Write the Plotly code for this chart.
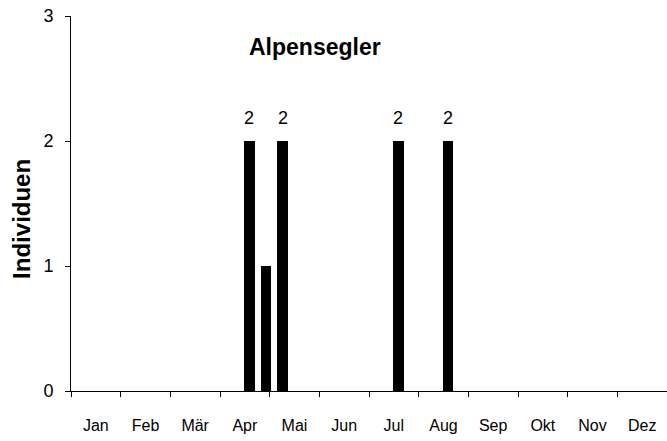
import plotly.graph_objects as go

months = ["Jan", "Feb", "Mär", "Apr", "Mai", "Jun", "Jul", "Aug", "Sep", "Okt", "Nov", "Dez"]
# decade index (0 = 1st decade of January, 3 decades per month)
decades = [10, 11, 12, 19, 22]
counts = [2, 1, 2, 2, 2]
shown_labels = ["2", "", "2", "2", "2"]
yticks = [0, 1, 2, 3]

BAR_OFF = 0.47
BAR_W = 0.62
FONT = "Liberation Sans, Arial, sans-serif"

fig = go.Figure()
fig.add_trace(go.Bar(
    x=decades, y=counts,
    offset=BAR_OFF, width=BAR_W,
    marker=dict(color="black", line=dict(width=0)),
    showlegend=False, hoverinfo="skip",
))

for d, c, t in zip(decades, counts, shown_labels):
    if t:
        fig.add_annotation(x=d + BAR_OFF + BAR_W / 2, y=c, text=t, showarrow=False,
                           yanchor="bottom", yshift=11,
                           font=dict(family=FONT, size=18, color="black"))

fig.add_annotation(x=0.41, y=0.9165, xref="paper", yref="paper", text="<b>Alpensegler</b>",
                   showarrow=False, yanchor="middle",
                   font=dict(family=FONT, size=23, color="black"))

fig.add_annotation(x=0, y=0.459, xref="paper", yref="paper", text="<b>Individuen</b>",
                   showarrow=False, textangle=-90, xshift=-49, xanchor="center", yanchor="middle",
                   font=dict(family=FONT, size=24, color="black"))

fig.update_layout(
    width=667, height=441,
    margin=dict(l=71, r=0, t=16, b=50),
    paper_bgcolor="white", plot_bgcolor="white",
    font=dict(family=FONT, size=16, color="black"),
    bargap=0,
    xaxis=dict(
        range=[0, 36],
        tickmode="array",
        tickvals=[3 * i + 1.5 for i in range(12)],
        ticktext=months,
        ticks="", ticklabelstandoff=20,
        tickfont=dict(size=16),
        showline=True, linecolor="black", linewidth=1,
        showgrid=False, zeroline=False, automargin=False,
        minor=dict(tickmode="linear", tick0=0, dtick=3, ticks="outside", ticklen=5,
                   tickcolor="black", tickwidth=1, showgrid=False),
        fixedrange=True,
    ),
    yaxis=dict(
        range=[0, 3],
        tickmode="array", tickvals=yticks,
        ticks="outside", ticklen=5, tickcolor="black",
        ticklabelstandoff=8, ticklabeloverflow="allow",
        tickfont=dict(size=18),
        showline=True, linecolor="black", linewidth=1,
        showgrid=False, zeroline=False, automargin=False,
        fixedrange=True,
    ),
)

fig.write_html("out.html",
               config={"displayModeBar": False, "staticPlot": True},
               post_script="document.body.style.margin='0';document.body.style.overflow='hidden';")
